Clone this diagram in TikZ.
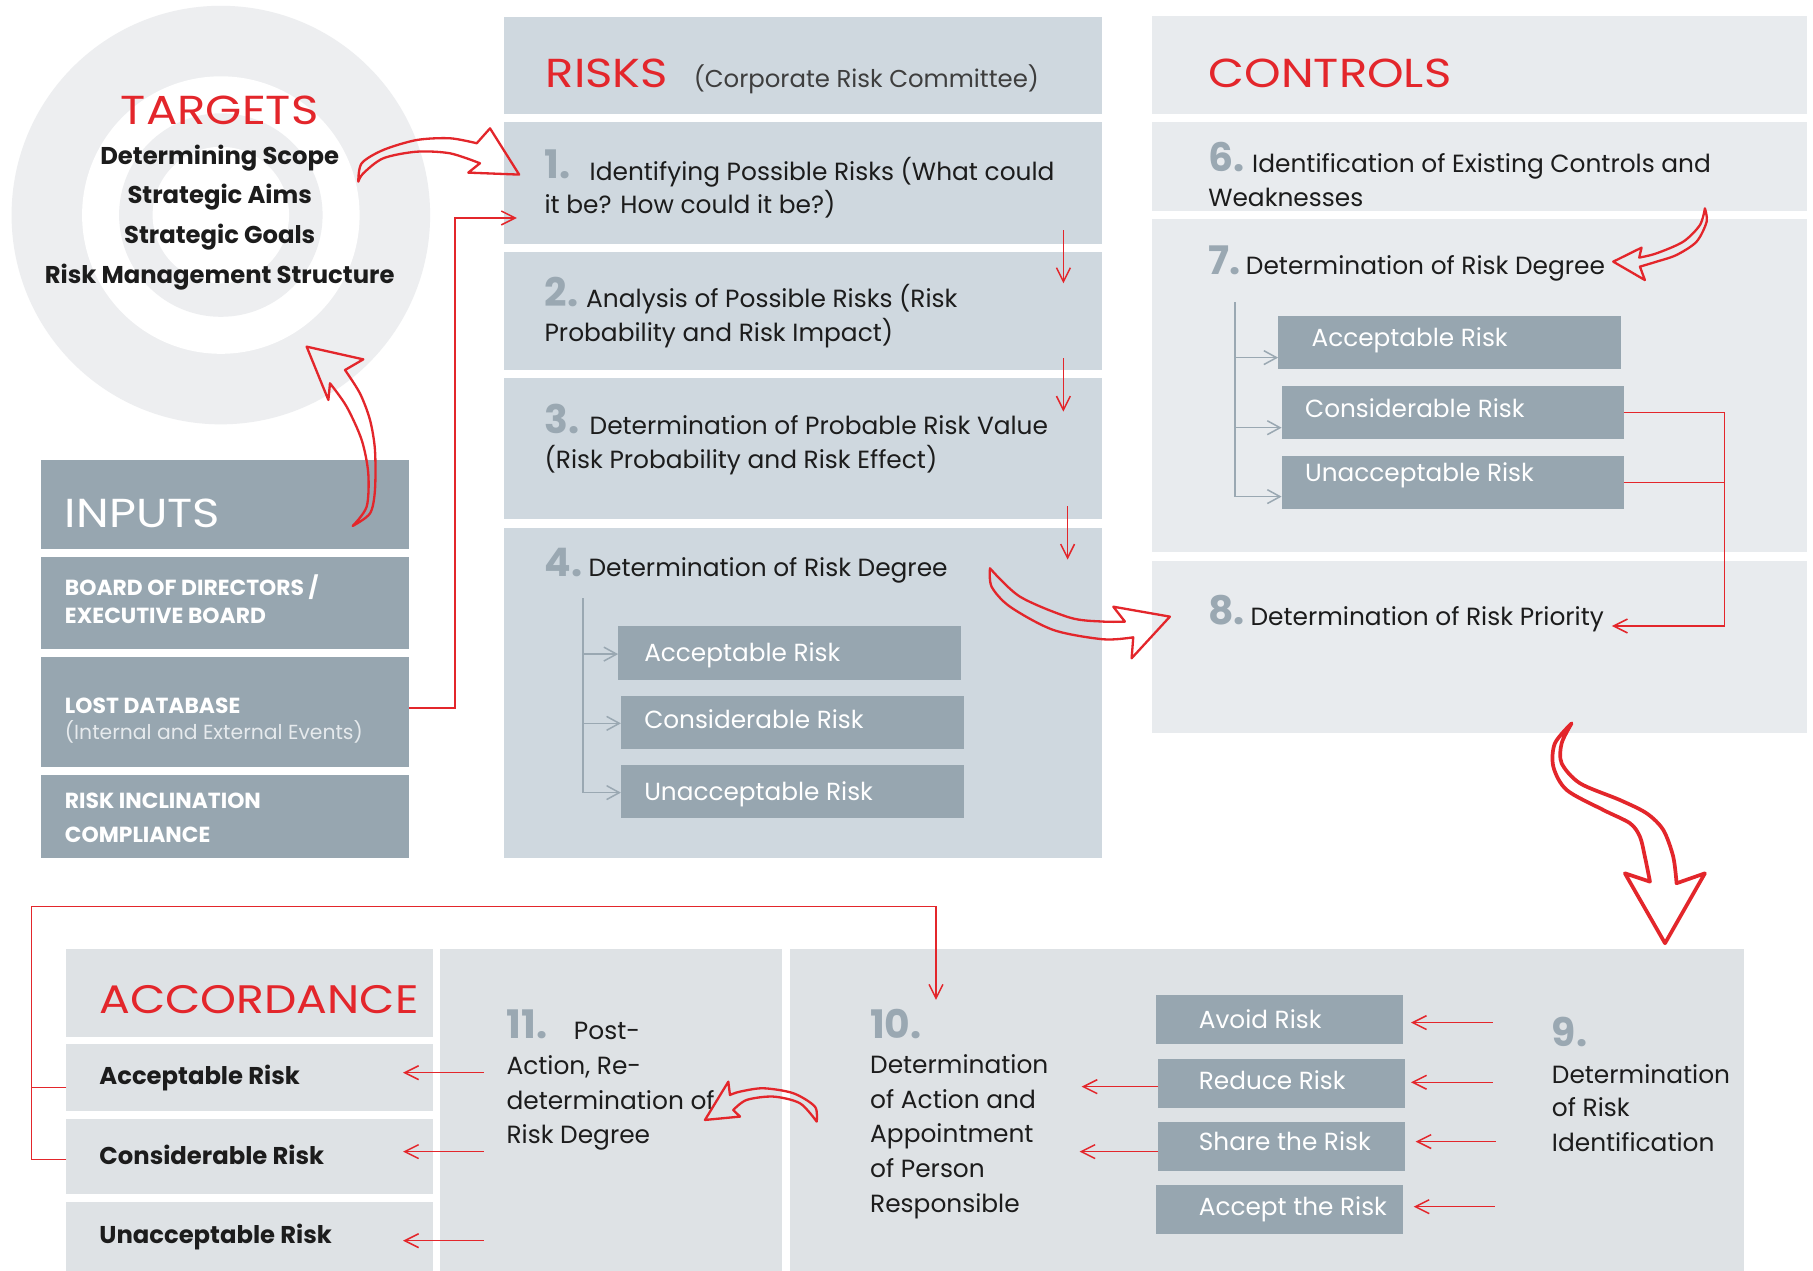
\documentclass[tikz,border=0pt]{standalone}
\usepackage{fontspec}
\setmainfont{Poppins}
\newfontfamily\titfont{Poppins}[FakeStretch=1.15]
\usetikzlibrary{arrows.meta}
\definecolor{rd}{HTML}{E3262B}
\definecolor{dk}{HTML}{97A6B0}
\definecolor{rk}{HTML}{CFD8DF}
\definecolor{ct}{HTML}{E8EBEE}
\definecolor{bt}{HTML}{DEE2E5}
\definecolor{cir}{HTML}{EDEEF0}
\definecolor{num}{HTML}{9AA8B2}
\definecolor{ink}{HTML}{1C1C1C}
\definecolor{paren}{HTML}{E6EAED}
\newcommand\ftit{\titfont\fontsize{35}{40}\selectfont}
\newcommand\fbody{\fontsize{21.5}{26}\selectfont}
\newcommand\fnum{\fontsize{34}{40}\selectfont\bfseries}
\newcommand\fsub{\fontsize{21.4}{24}\selectfont}
\newcommand\fbld{\fontsize{21}{26}\selectfont\bfseries}
\newcommand\finp{\fontsize{18.9}{22}\selectfont\bfseries}
\begin{document}
\begin{tikzpicture}[x=1pt,y=-1pt,
  bx/.style={anchor=north west, inner sep=0, outer sep=0, draw=none},
  dkbox/.style={bx, fill=dk},
  rkbox/.style={bx, fill=rk},
  ctbox/.style={bx, fill=ct},
  btbox/.style={bx, fill=bt},
  disc/.style={circle, inner sep=0, outer sep=0, draw=none},
  tx/.style={inner sep=0, outer sep=0, anchor=base west, text=ink, font=\fbody},
  ttl/.style={tx, text=rd, font=\ftit},
  nm/.style={tx, text=num, font=\fnum},
  sub/.style={tx, text=white, font=\fsub},
  bld/.style={tx, font=\fbld},
  inp/.style={tx, text=white, font=\finp},
  rline/.style={draw=rd, line width=1.3},
  rarrow/.style={rline, -{Straight Barb[length=12,width=12]}},
  garrow/.style={draw=num, line width=1.3, -{Straight Barb[length=11,width=12]}},
  gline/.style={draw=num, line width=1.3},
  oarrow/.style={draw=rd, line width=2, line join=round, line cap=round},
]
\useasboundingbox (0,0) rectangle (1568,1099);
\fill[white] (0,0) rectangle (1568,1099);

% ---------------- TARGETS
\node[disc, fill=cir, minimum size=362] (tgo) at (191,186) {};
\node[disc, fill=white, minimum size=240] (tgw) at (191,186) {};
\node[disc, fill=cir, minimum size=176] (tgi) at (191,186) {};
\node[disc, fill=white, minimum size=118] (tgc) at (191,186) {};
\node[ttl, anchor=base] (ttarg) at (190,108) {TARGETS};
\node[bld, anchor=base] (tg1) at (190,142.7) {Determining Scope};
\node[bld, anchor=base] (tg2) at (190,175.9) {Strategic Aims};
\node[bld, anchor=base] (tg3) at (190,210.4) {Strategic Goals};
\node[bld, anchor=base] (tg4) at (190,245) {Risk Management Structure};

% ---------------- INPUTS
\node[dkbox, minimum width=318.5, minimum height=77] (in0) at (35.5,398) {};
\node[dkbox, minimum width=318.5, minimum height=79.6] (in1) at (35.5,481.7) {};
\node[dkbox, minimum width=318.5, minimum height=95.1] (in2) at (35.5,568.2) {};
\node[dkbox, minimum width=318.5, minimum height=71.8] (in3) at (35.5,670.2) {};
\node[ttl, text=white] (tinp) at (56.2,456.6) {INPUTS};
\node[inp] (ti1a) at (56.2,515.4) {BOARD OF DIRECTORS /};
\node[inp] (ti1b) at (56.2,539) {EXECUTIVE BOARD};
\node[inp] (ti2a) at (56.2,616.9) {LOST DATABASE};
\node[tx, text=paren, font=\fontsize{17.6}{20}\selectfont] (ti2b) at (56.2,639.4) {(Internal and External Events)};
\node[inp] (ti3a) at (56.2,699) {RISK INCLINATION};
\node[inp] (ti3b) at (56.2,728.5) {COMPLIANCE};

% ---------------- RISKS
\node[rkbox, minimum width=517.5, minimum height=83.9] (rh) at (436,14.7) {};
\node[rkbox, minimum width=517.5, minimum height=105.5] (r1) at (436,105.5) {};
\node[rkbox, minimum width=517.5, minimum height=102] (r2) at (436,218) {};
\node[rkbox, minimum width=517.5, minimum height=122] (r3) at (436,327) {};
\node[rkbox, minimum width=517.5, minimum height=285] (r4) at (436,457) {};
\node[dkbox, minimum width=296.2, minimum height=46.7] (r4a) at (534.6,541.4) {};
\node[dkbox, minimum width=296.3, minimum height=46.1] (r4b) at (537,601.9) {};
\node[dkbox, minimum width=296.3, minimum height=45.8] (r4c) at (537,661.9) {};
\node[ttl] (trisk) at (472,76) {RISKS};
\node[tx, text=ink!85, font=\fontsize{21.1}{26}\selectfont] (tcrc) at (600,76) {(Corporate Risk Committee)};
\node[nm] (n1) at (471,154.5) {1.};
\node[tx] (t1a) at (510,155.7) {Identifying Possible Risks (What could};
\node[tx] (t1b) at (471,185) {it be? How could it be?)};
\node[nm] (n2) at (471,265.5) {2.};
\node[tx] (t2a) at (507,266) {Analysis of Possible Risks (Risk};
\node[tx] (t2b) at (471,295.5) {Probability and Risk Impact)};
\node[nm] (n3) at (471,375) {3.};
\node[tx] (t3a) at (510,375.5) {Determination of Probable Risk Value};
\node[tx] (t3b) at (471,405) {(Risk Probability and Risk Effect)};
\node[nm] (n4) at (471,498.5) {4.};
\node[tx] (t4a) at (509,499) {Determination of Risk Degree};
\node[sub] (t4s1) at (557.2,572.2) {Acceptable Risk};
\node[sub] (t4s2) at (557.2,629.9) {Considerable Risk};
\node[sub] (t4s3) at (557.2,691.9) {Unacceptable Risk};
% tree
\coordinate (rtt) at (504,517.5);
\coordinate (rtb) at (504,685.5);
\coordinate (rb1) at (504,565.7);
\coordinate (rb2) at (504,625.6);
\draw[gline] (rtt) -- (rtb);
\draw[garrow] (rb1) -- (r4a.west |- rb1);
\draw[garrow] (rb2) -- (r4b.west |- rb2);
\draw[garrow] (rtb) -- (r4c.west |- rtb);
% red small arrows
\coordinate (a12s) at (919.7,199); \coordinate (a12e) at (919.7,245);
\coordinate (a23s) at (919.7,310); \coordinate (a23e) at (919.7,356);
\coordinate (a34s) at (923.3,438); \coordinate (a34e) at (923.3,484);
\draw[rarrow] (a12s) -- (a12e);
\draw[rarrow] (a23s) -- (a23e);
\draw[rarrow] (a34s) -- (a34e);

% ---------------- CONTROLS
\node[ctbox, minimum width=566.7, minimum height=85.1] (ch) at (996.3,13.8) {};
\node[ctbox, minimum width=566.7, minimum height=76.7] (c6) at (996.3,105.8) {};
\node[ctbox, minimum width=566.7, minimum height=288.3] (c7) at (996.3,189.4) {};
\node[ctbox, minimum width=566.7, minimum height=149] (c8) at (996.3,485.2) {};
\node[dkbox, minimum width=296.2, minimum height=46.1] (c7a) at (1105.4,273.3) {};
\node[dkbox, minimum width=295.8, minimum height=46.2] (c7b) at (1108.4,333.8) {};
\node[dkbox, minimum width=295.8, minimum height=46.1] (c7c) at (1108.4,394.4) {};
\node[ttl] (tctl) at (1045.3,75.5) {CONTROLS};
\node[nm] (n6) at (1045,148.5) {6.};
\node[tx] (t6a) at (1083,149.3) {Identification of Existing Controls and};
\node[tx] (t6b) at (1045,178.7) {Weaknesses};
\node[nm] (n7) at (1045,237.8) {7.};
\node[tx] (t7a) at (1077.6,237.8) {Determination of Risk Degree};
\node[sub] (t7s1) at (1134.4,299.8) {Acceptable Risk};
\node[sub] (t7s2) at (1128.8,361.2) {Considerable Risk};
\node[sub] (t7s3) at (1128.8,416.6) {Unacceptable Risk};
\node[nm] (n8) at (1045,540) {8.};
\node[tx] (t8a) at (1081.6,540.6) {Determination of Risk Priority};
\coordinate (ctt) at (1067.9,261.5);
\coordinate (ctb) at (1067.9,429.5);
\coordinate (cb1) at (1067.9,309.3);
\coordinate (cb2) at (1067.9,369.9);
\draw[gline] (ctt) -- (ctb);
\draw[garrow] (cb1) -- (c7a.west |- cb1);
\draw[garrow] (cb2) -- (c7b.west |- cb2);
\draw[garrow] (ctb) -- (c7c.west |- ctb);
\coordinate (c8bend) at (1491.4,541.4);
\coordinate (c8in) at (1394.1,541.4);
\draw[rline] (c7c.east) -- (c7c.east -| c8bend);
\draw[rarrow] (c7b.east) -| (c8bend) -- (c8in);

% ---------------- BOTTOM
\node[btbox, minimum width=316.8, minimum height=75.8] (ah) at (57.4,820.7) {};
\node[btbox, minimum width=316.8, minimum height=57.3] (aa) at (57.4,903.2) {};
\node[btbox, minimum width=316.8, minimum height=65.1] (ac) at (57.4,967.5) {};
\node[btbox, minimum width=316.8, minimum height=59.5] (au) at (57.4,1039.5) {};
\node[btbox, minimum width=296, minimum height=278.3] (b11) at (380.4,820.7) {};
\node[btbox, minimum width=824.8, minimum height=278.3] (b10) at (683.2,820.7) {};
\node[dkbox, minimum width=213.6, minimum height=42.4] (avoid) at (999.9,860.5) {};
\node[dkbox, minimum width=213.7, minimum height=42] (reduce) at (1001.6,915.9) {};
\node[dkbox, minimum width=213.7, minimum height=42.1] (share) at (1001.6,970.3) {};
\node[dkbox, minimum width=213.6, minimum height=42.1] (accept) at (999.9,1024.8) {};
\node[ttl, font=\titfont\fontsize{34.4}{40}\selectfont] (tacc) at (86,876.4) {ACCORDANCE};
\node[bld] (ta1) at (86,938.3) {Acceptable Risk};
\node[bld] (ta2) at (86,1007.5) {Considerable Risk};
\node[bld] (ta3) at (86,1075.3) {Unacceptable Risk};
\node[nm] (n11) at (438.1,898) {11.};
\node[tx] (t11a) at (496.4,899) {Post-};
\node[tx] (t11b) at (438.1,929.7) {Action, Re-};
\node[tx] (t11c) at (438.1,959.4) {determination of};
\node[tx] (t11d) at (438.1,988.8) {Risk Degree};
\node[nm] (n10) at (752.6,898) {10.};
\node[tx] (t10a) at (752.6,928.8) {Determination};
\node[tx] (t10b) at (752.6,958.5) {of Action and};
\node[tx] (t10c) at (752.6,988.2) {Appointment};
\node[tx] (t10d) at (752.6,1018.5) {of Person};
\node[tx] (t10e) at (752.6,1048.8) {Responsible};
\node[sub] (tav) at (1036.9,889.3) {Avoid Risk};
\node[sub] (tre) at (1036.9,942.1) {Reduce Risk};
\node[sub] (tsh) at (1036.9,994.6) {Share the Risk};
\node[sub] (tac) at (1036.9,1051.6) {Accept the Risk};
\node[nm] (n9) at (1342.2,905.2) {9.};
\node[tx] (t9a) at (1342.2,936.9) {Determination};
\node[tx] (t9b) at (1342.2,965.7) {of Risk};
\node[tx] (t9c) at (1342.2,996) {Identification};

% arrows 9 -> actions
\coordinate (s9a) at (1291,884.4);   \coordinate (e9a) at (1220.3,884.4);
\coordinate (s9b) at (1291,936);     \coordinate (e9b) at (1220.3,936);
\coordinate (s9c) at (1293.8,987.3); \coordinate (e9c) at (1224.3,987.3);
\coordinate (s9d) at (1292.7,1043.6);\coordinate (e9d) at (1222.6,1043.6);
\draw[rarrow] (s9a) -- (e9a);
\draw[rarrow] (s9b) -- (e9b);
\draw[rarrow] (s9c) -- (e9c);
\draw[rarrow] (s9d) -- (e9d);
% actions -> 10
\coordinate (e10a) at (935.5,939.8);
\coordinate (e10b) at (933.7,996);
\draw[rarrow] (reduce.west |- e10a) -- (e10a);
\draw[rarrow] (share.west |- e10b) -- (e10b);
% 11 -> accordance
\coordinate (s11a) at (418.3,927.7); \coordinate (e11a) at (348.6,927.7);
\coordinate (s11b) at (418.3,996);   \coordinate (e11b) at (348.6,996);
\coordinate (s11c) at (418.3,1073);  \coordinate (e11c) at (348.6,1073);
\draw[rarrow] (s11a) -- (e11a);
\draw[rarrow] (s11b) -- (e11b);
\draw[rarrow] (s11c) -- (e11c);
% accordance loop -> 10
\coordinate (aaw) at (57.4,940.4);
\coordinate (acw) at (57.4,1002.6);
\coordinate (lb) at (27.3,1002.6);
\coordinate (lt) at (27.3,784.1);
\coordinate (rt) at (809.5,784.1);
\coordinate (b10in) at (809.5,864.8);
\draw[rline] (aaw) -- (aaw -| lb);
\draw[rarrow] (acw) -- (lb) -- (lt) -- (rt) -- (b10in);

% inputs -> risk 1
\coordinate (in2o) at (354,612.3);
\coordinate (bend1) at (393.6,188.5);
\coordinate (r1in) at (447,188.5);
\draw[rarrow] (in2o) -| (bend1) -- (r1in);

% ---------------- outline arrows
% inputs -> targets
\draw[oarrow] (265.2,299.8) -- (314.2,310.8) -- (298.4,320)
  -- plot[smooth] coordinates {(298.4,320) (311.3,340.2) (320,363.2) (324.3,389.2) (324.3,423.8) (320,444) (305,454.9)}
  -- plot[smooth] coordinates {(305,454.9) (317.1,438.2) (318.5,409.3) (312.8,380.5) (299.8,351.7) (285.4,331.5)}
  -- (284,345.9) -- cycle;
% targets -> risk 1
\draw[oarrow] plot[smooth] coordinates {(309.9,157.1) (312.8,141.2) (331.5,129.7) (360.4,121.1) (389.2,119.6) (412.3,123.9)}
  -- (423.8,111) -- (449,151) -- (405,149.3) -- (415.1,141.2)
  -- plot[smooth] coordinates {(415.1,141.2) (389.2,132.6) (360.4,131.2) (331.5,136.9) (314.2,149.9) (309.9,157.1)} -- cycle;
% 4 -> 8
\draw[oarrow] plot[smooth] coordinates {(856.2,491.5) (857.6,507.4) (873.5,524.7) (910.9,544.8) (954.2,552.9) (980.1,551.2)}
  -- (978.7,569.3) -- (1011.8,533.3) -- (962.8,524.7) -- (972.9,537.6)
  -- plot[smooth] coordinates {(972.9,537.6) (954.2,537.6) (925.4,534.2) (882.1,516) (856.2,491.5)} -- cycle;
% 6 -> 7
\draw[oarrow] plot[smooth] coordinates {(1474.5,180.2) (1476,191.7) (1467.3,209) (1450,220.5) (1432.7,226.3) (1418.3,230.6)}
  -- (1422.6,242.2) -- (1395.2,226.3) -- (1419.7,214.2) -- (1417.7,222.8)
  -- plot[smooth] coordinates {(1417.7,222.8) (1432.7,219.1) (1455.8,209) (1470.2,194.6) (1474.5,180.2)} -- cycle;
% 8 -> 9
\draw[oarrow, line width=3.2] plot[smooth] coordinates {(1359.2,625.6) (1344.8,642.8) (1343.4,663) (1354.9,683.2) (1386.6,700.5) (1409.7,712) (1418.3,723.6) (1422.6,740.9) (1427,762.5)}
  -- (1405.3,755.3) -- (1440,815.8) -- (1474.5,755.3) -- (1450,763.9)
  -- plot[smooth] coordinates {(1450,763.9) (1447.1,740.9) (1438.5,717.8) (1424.1,703.4) (1401,691.9) (1366.4,677.4) (1350.6,660.1) (1350.6,642.8) (1359.2,625.6)} -- cycle;
% 10 -> 11
\draw[oarrow] plot[smooth] coordinates {(706.3,970) (704.8,957.1) (686.1,945.5) (660.2,941.2) (640,944.1) (631.3,947)}
  -- (629.9,935.5) -- (609.7,968.6) -- (640,965.7) -- (634.2,960)
  -- plot[smooth] coordinates {(634.2,960) (645.7,951.3) (668.8,948.4) (691.9,954.2) (706.3,970)} -- cycle;
\end{tikzpicture}
\end{document}
